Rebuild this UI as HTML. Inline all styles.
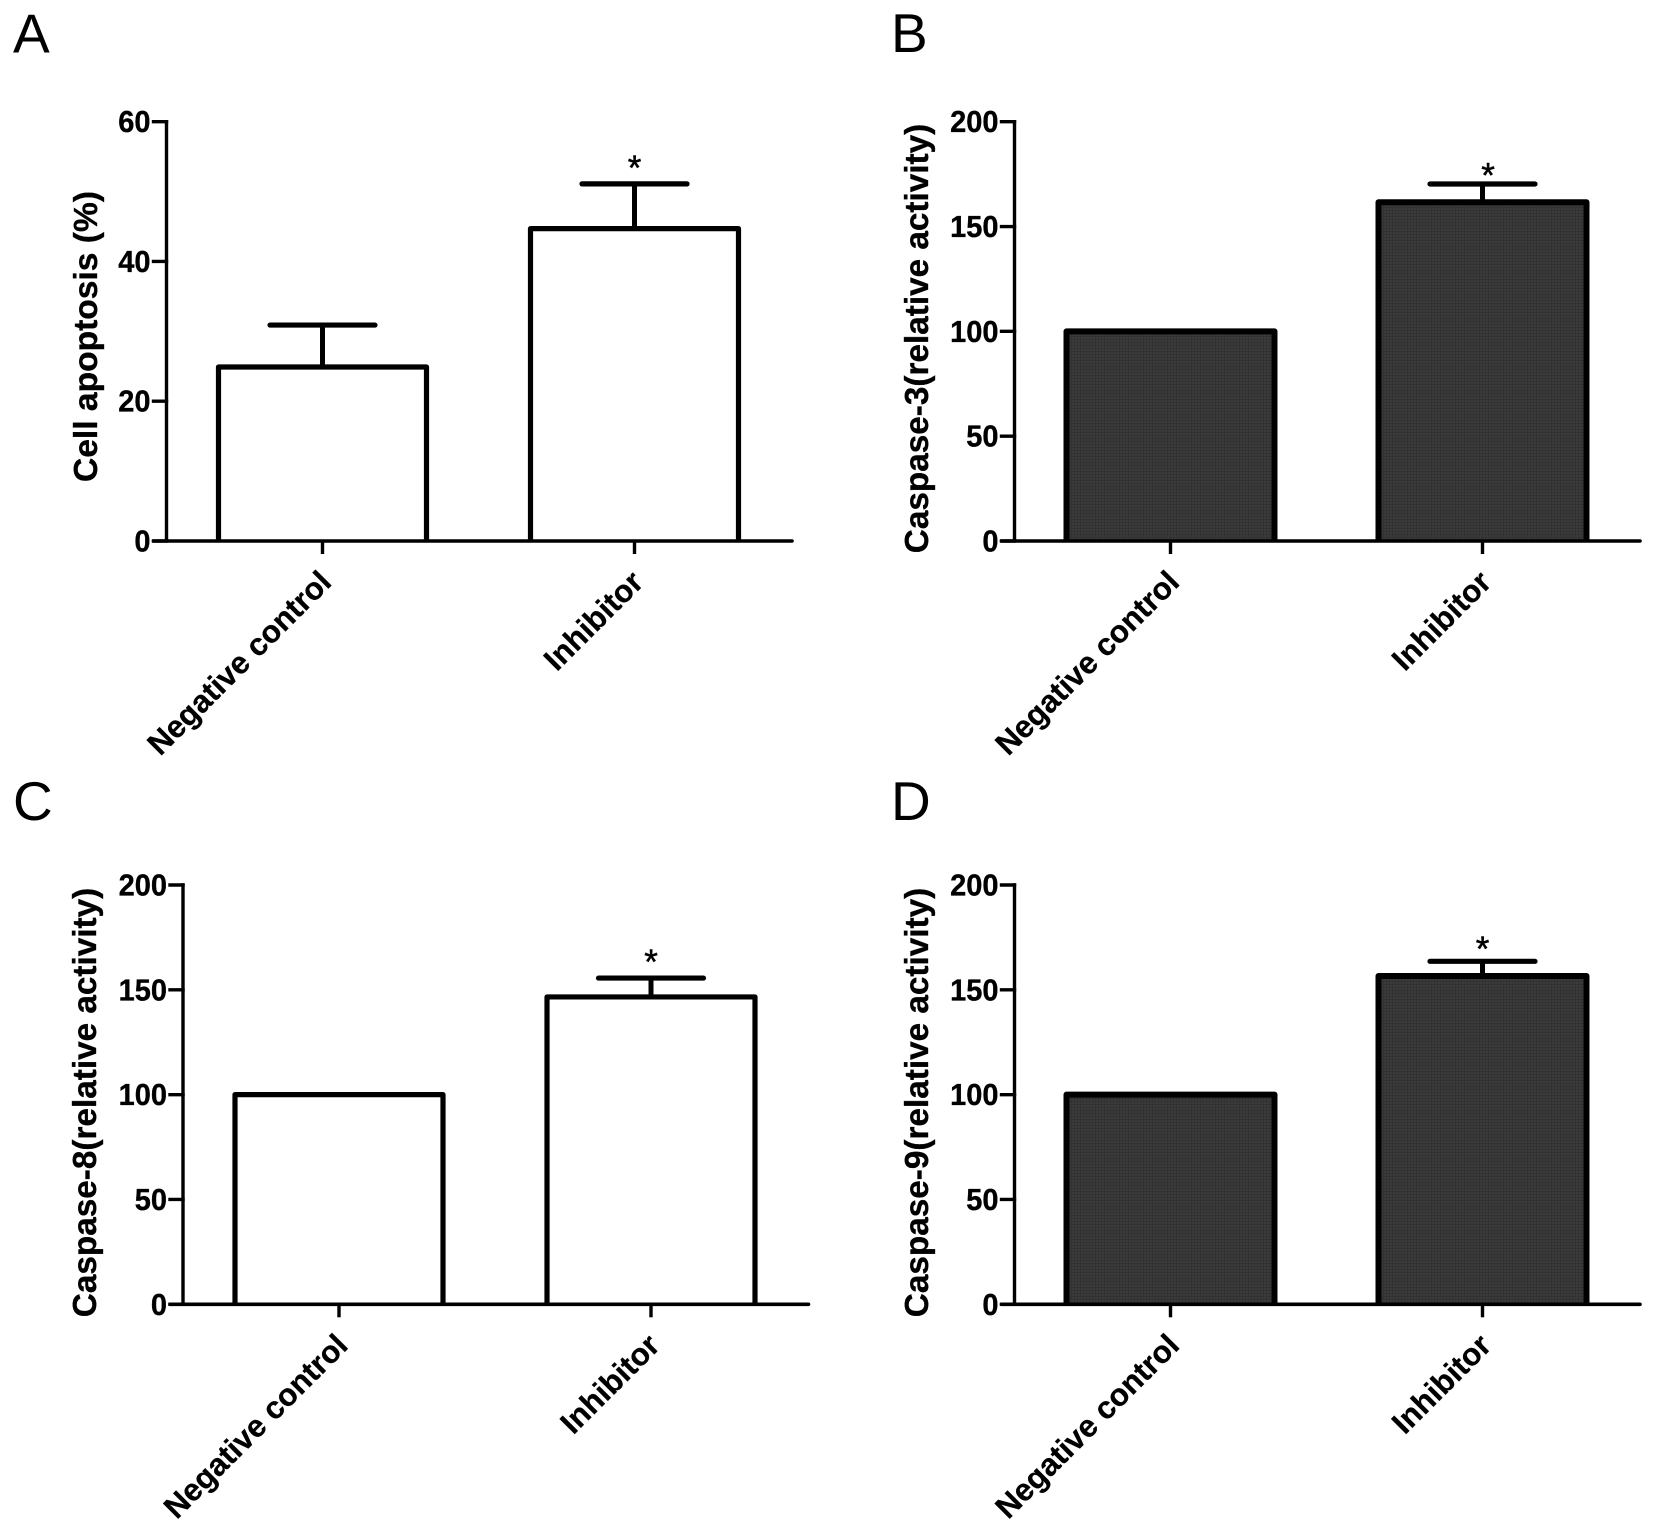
<!DOCTYPE html>
<html lang="en">
<head>
<meta charset="utf-8">
<title>Apoptosis and caspase activity</title>
<style>
  html, body { margin: 0; padding: 0; background: #fff; }
  svg { display: block; }
  text { font-family: "Liberation Sans", Arial, sans-serif; fill: #000; }
  .panel-letter { font-size: 55px; font-weight: 400; }
  .y-title { font-size: 33.3px; font-weight: 700; text-anchor: middle; stroke: #000; stroke-width: 0.35px; }
  .tick-label { font-size: 30.5px; font-weight: 700; text-anchor: end; stroke: #000; stroke-width: 0.35px; }
  .cat-label { font-size: 31.2px; font-weight: 700; text-anchor: end; stroke: #000; stroke-width: 0.3px; }
  .star { font-size: 35px; font-weight: 400; text-anchor: middle; stroke: #000; stroke-width: 0.5px; }
</style>
</head>
<body>
<svg id="figure" width="1654" height="1532" viewBox="0 0 1654 1532" xmlns="http://www.w3.org/2000/svg">
  <defs>
    <pattern id="dark-fill" width="3" height="3" patternUnits="userSpaceOnUse">
      <rect width="3" height="3" fill="#3b3b3b"/>
      <rect width="1" height="3" fill="#323232"/>
      <rect width="3" height="1" fill="#323232"/>
    </pattern>
  </defs>
  <rect width="1654" height="1532" fill="#fff"/>

  <text class="panel-letter" x="13" y="52.5">A</text>
  <text class="panel-letter" x="891" y="52">B</text>
  <text class="panel-letter" x="13" y="820">C</text>
  <text class="panel-letter" x="891" y="820">D</text>

  <text class="y-title" style="font-size:33.6px" transform="translate(97 336.5) rotate(-90)">Cell apoptosis (%)</text>
  <text class="y-title" transform="translate(928 338.5) rotate(-90)">Caspase-3(relative activity)</text>
  <text class="y-title" transform="translate(96 1102.5) rotate(-90)">Caspase-8(relative activity)</text>
  <text class="y-title" transform="translate(928 1102.5) rotate(-90)">Caspase-9(relative activity)</text>

  <g id="panel-a"></g>
  <g id="panel-b"></g>
  <g id="panel-c"></g>
  <g id="panel-d"></g>
</svg>

<script>
// Chart data
const categories = ['Negative control', 'Inhibitor'];
const ticksApoptosis = [0, 20, 40, 60];
const ticksCaspase = [0, 50, 100, 150, 200];
const apoptosisValues = [24.9, 44.7];
const apoptosisErrorTops = [30.9, 51.1];
const caspase3Values = [100, 161.6];
const caspase3ErrorTops = [100, 170.3];
const caspase8Values = [100, 146.6];
const caspase8ErrorTops = [100, 155.6];
const caspase9Values = [100, 156.6];
const caspase9ErrorTops = [100, 163.6];
const significance = [false, true];

const NS = 'http://www.w3.org/2000/svg';

function make(parent, tag, attrs, content) {
  const el = document.createElementNS(NS, tag);
  for (const k in attrs) el.setAttribute(k, attrs[k]);
  if (content !== undefined) el.textContent = content;
  parent.appendChild(el);
  return el;
}

function drawPanel(opts) {
  const g = document.getElementById(opts.id);
  const plotHeight = 419.3;
  const axisX = opts.axisX;
  const baseY = opts.baseY;
  const ticks = opts.ticks;
  const maxTick = ticks[ticks.length - 1];
  const yScale = function (v) { return baseY - (v / maxTick) * plotHeight; };
  const xScale = function (i) { return axisX + 156 + 312 * i; };
  const barW = 208;
  const capHalf = 52.5;
  const fill = opts.dark ? 'url(#dark-fill)' : '#fff';
  const barStroke = opts.dark ? 6 : 5.2;

  categories.forEach(function (cat, i) {
    const cx = xScale(i);
    const top = yScale(opts.values[i]);
    const errTop = yScale(opts.errors[i]);
    const left = cx - barW / 2;
    const right = cx + barW / 2;

    if (opts.errors[i] > opts.values[i]) {
      const stem = make(g, 'line', { x1: cx, x2: cx, y1: top, y2: errTop, stroke: '#000', 'stroke-width': 5 });
      
      
      const cap = make(g, 'line', { x1: cx - capHalf, x2: cx + capHalf, y1: errTop, y2: errTop, stroke: '#000', 'stroke-width': 5.2, 'stroke-linecap': 'round' });
      
      
    }

    const bar = make(g, 'path', {
      d: 'M' + left + ' ' + baseY + 'V' + top + 'H' + right + 'V' + baseY,
      fill: fill, stroke: '#000', 'stroke-width': barStroke, 'stroke-linejoin': 'round'
    });
    
    

    if (significance[i]) {
      const starY = errTop - opts.starGap + 17.5;
      const star = make(g, 'text', { class: 'star', x: cx + opts.starDx, y: starY }, '*');
      
      
    }

    const tick = make(g, 'line', { x1: cx, x2: cx, y1: baseY, y2: baseY + 13, stroke: '#000', 'stroke-width': 3.4 });
    
    

    const lx = cx + 10.5;
    const ly = baseY + 43;
    const label = make(g, 'text', { class: 'cat-label', transform: 'translate(' + lx + ' ' + ly + ') rotate(-45)' }, cat);
    
    
  });

  ticks.forEach(function (t) {
    const y = yScale(t);
    const tick = make(g, 'line', { x1: axisX - 13, x2: axisX, y1: y, y2: y, stroke: '#000', 'stroke-width': 3.4, 'stroke-linecap': 'square' });
    
    
    const label = make(g, 'text', { class: 'tick-label', transform: 'translate(' + (axisX - 16) + ' ' + (y + 10.5) + ') scale(0.95 1)' }, String(t));
    
    
  });

  const yAxis = make(g, 'line', { x1: axisX, x2: axisX, y1: yScale(maxTick) - 1.7, y2: baseY, stroke: '#000', 'stroke-width': 3.4 });
  
  

  const xAxis = make(g, 'line', { x1: axisX - 13, x2: axisX + 625.5, y1: baseY, y2: baseY, stroke: '#000', 'stroke-width': 3.6, 'stroke-linecap': 'round' });
  
  
}

drawPanel({ id: 'panel-a', axisX: 166.5, baseY: 541, ticks: ticksApoptosis, values: apoptosisValues, errors: apoptosisErrorTops, dark: false, starGap: 21.3, starDx: 0 });
drawPanel({ id: 'panel-b', axisX: 1014.5, baseY: 541, ticks: ticksCaspase, values: caspase3Values, errors: caspase3ErrorTops, dark: true, starGap: 14, starDx: 5.5 });
drawPanel({ id: 'panel-c', axisX: 183, baseY: 1304.3, ticks: ticksCaspase, values: caspase8Values, errors: caspase8ErrorTops, dark: false, starGap: 21.5, starDx: 0 });
drawPanel({ id: 'panel-d', axisX: 1014.5, baseY: 1304.3, ticks: ticksCaspase, values: caspase9Values, errors: caspase9ErrorTops, dark: true, starGap: 18, starDx: 0 });
</script>
</body>
</html>
